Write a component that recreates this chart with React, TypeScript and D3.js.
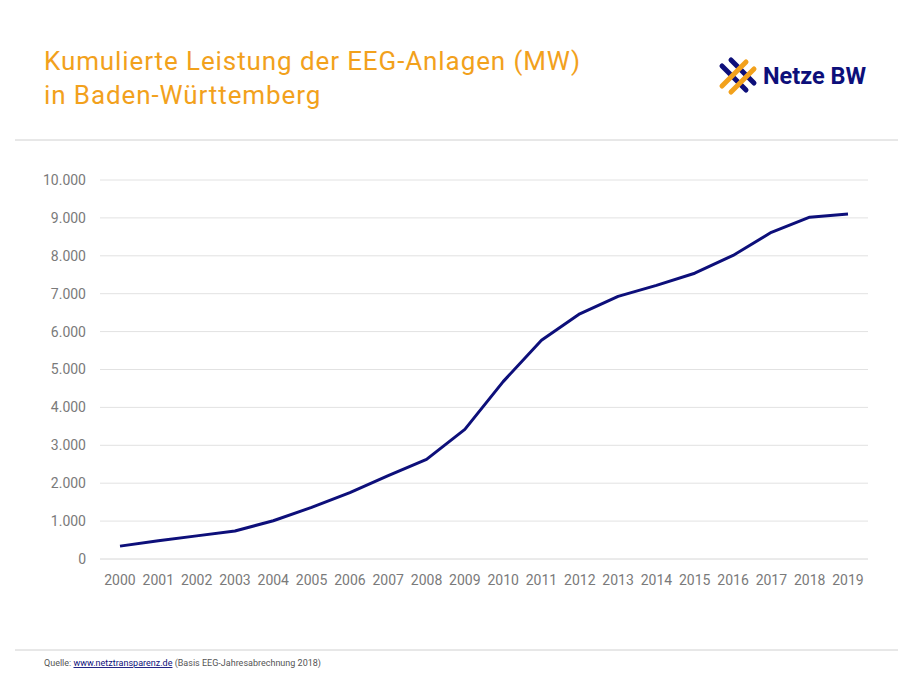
import * as d3 from 'd3';

const years = ['2000','2001','2002','2003','2004','2005','2006','2007','2008','2009','2010','2011','2012','2013','2014','2015','2016','2017','2018','2019'];
const values = [340, 480, 610, 740, 1010, 1360, 1750, 2200, 2630, 3420, 4680, 5770, 6470, 6930, 7220, 7540, 8010, 8620, 9020, 9100];
const yTicks = [0, 1000, 2000, 3000, 4000, 5000, 6000, 7000, 8000, 9000, 10000];

const W = 913, H = 677;
const NAVY = '#0d0f7a', ORANGE = '#f2a11c';
const font = 'Roboto, "DejaVu Sans", sans-serif';

export default function App() {
  const x = d3.scalePoint<string>().domain(years).range([120, 848]);
  const y = d3.scaleLinear().domain([0, 10000]).range([559, 180]);
  const line = d3.line<number>().x((_, i) => x(years[i])!).y(d => y(d));
  const fmt = (v: number) => v === 0 ? '0' : d3.format(',')(v).replace(/,/g, '.');

  return (
    <svg width={W} height={H} style={{ position: 'absolute', left: 0, top: 0, background: '#fff' }} fontFamily={font}>
      <text x={44} y={70} fontSize={26} letterSpacing={0.9} fill={ORANGE}>Kumulierte Leistung der EEG-Anlagen (MW)</text>
      <text x={44} y={104} fontSize={26} letterSpacing={0.9} fill={ORANGE}>in Baden-Württemberg</text>

      <g strokeWidth={5} strokeLinecap="round">
        <line x1={722} y1={66} x2={746} y2={90} stroke={NAVY} />
        <line x1={731} y1={60} x2={754} y2={83} stroke={NAVY} />
        <line x1={722} y1={86} x2={746} y2={62} stroke={ORANGE} />
        <line x1={731} y1={92} x2={754} y2={69} stroke={ORANGE} />
      </g>
      <text x={763} y={84} fontSize={23.5} fontWeight="bold" fill={NAVY}>Netze BW</text>

      <line x1={15} x2={898} y1={140} y2={140} stroke="#d0d0d0" />
      <line x1={15} x2={898} y1={650} y2={650} stroke="#d0d0d0" />

      {yTicks.map(t => (
        <g key={t}>
          {t > 0 && <line x1={100} x2={868} y1={y(t)} y2={y(t)} stroke="#e2e2e2" />}
          <text x={86} y={y(t)} dy="0.35em" textAnchor="end" fontSize={14} fill="#7a7a7a">{fmt(t)}</text>
        </g>
      ))}
      <line x1={100} x2={868} y1={y(0)} y2={y(0)} stroke="#d6d6d6" />
      {years.map(yr => (
        <text key={yr} x={x(yr)} y={585} textAnchor="middle" fontSize={14} fill="#7a7a7a">{yr}</text>
      ))}
      <path d={line(values)!} fill="none" stroke={NAVY} strokeWidth={3} strokeLinejoin="round" />

      <text x={44} y={666} fontSize={9} fill="#555">
        Quelle: <tspan fill={NAVY} textDecoration="underline">www.netztransparenz.de</tspan>  (Basis EEG-Jahresabrechnung 2018)
      </text>
    </svg>
  );
}
